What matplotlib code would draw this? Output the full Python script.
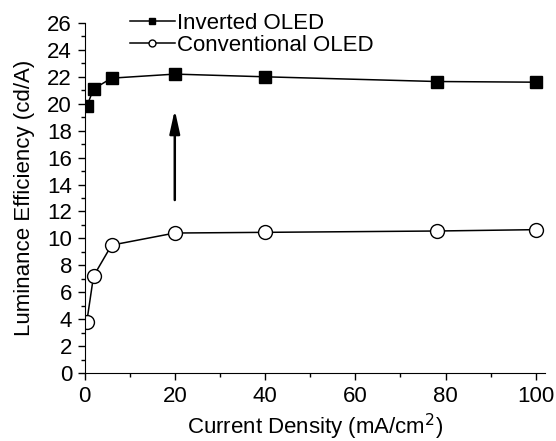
import matplotlib.pyplot as plt
from matplotlib.ticker import MultipleLocator

plt.rcParams['font.family'] = ['Liberation Sans', 'DejaVu Sans']

current = [0.5, 2, 6, 20, 40, 78, 100]
inverted = [19.8, 21.1, 21.9, 22.2, 22.0, 21.65, 21.6]
conventional = [3.8, 7.2, 9.5, 10.4, 10.45, 10.55, 10.65]

fig = plt.figure(figsize=(5.56, 4.41), dpi=100)
ax = fig.add_axes([0.152, 0.154, 0.828, 0.794])

ax.plot(current, inverted, '-s', color='black', lw=1.1, ms=9,
        mfc='black', mec='black', label='Inverted OLED')
ax.plot(current, conventional, '-o', color='black', lw=1.1, ms=10,
        mfc='white', mec='black', label='Conventional OLED')

ax.annotate('', xy=(20, 19.55), xytext=(20, 12.85),
            arrowprops=dict(arrowstyle='-|>,head_length=1.0,head_width=0.22',
                            color='black', lw=1.8,
                            mutation_scale=14, shrinkA=0, shrinkB=0))

ax.set_xlim(0, 102)
ax.set_ylim(0, 26)
ax.xaxis.set_major_locator(MultipleLocator(20))
ax.xaxis.set_minor_locator(MultipleLocator(10))
ax.yaxis.set_major_locator(MultipleLocator(2))
ax.yaxis.set_minor_locator(MultipleLocator(1))
ax.tick_params(which='major', direction='out', length=5, width=1,
               labelsize=16, pad=4)
ax.tick_params(which='minor', direction='out', length=3, width=1)
ax.spines['top'].set_visible(False)
ax.spines['right'].set_visible(False)

ax.set_xlabel('Current Density (mA/cm$^2$)', fontsize=16, labelpad=4)
ax.set_ylabel('Luminance Efficiency (cd/A)', fontsize=16, labelpad=9)

ax.legend(loc='upper left', bbox_to_anchor=(0.08, 1.055), frameon=False,
          fontsize=16, markerscale=0.5, handlelength=2.0,
          handletextpad=0.1, labelspacing=0.05, borderaxespad=0)

fig.savefig('out.png', dpi=100)
